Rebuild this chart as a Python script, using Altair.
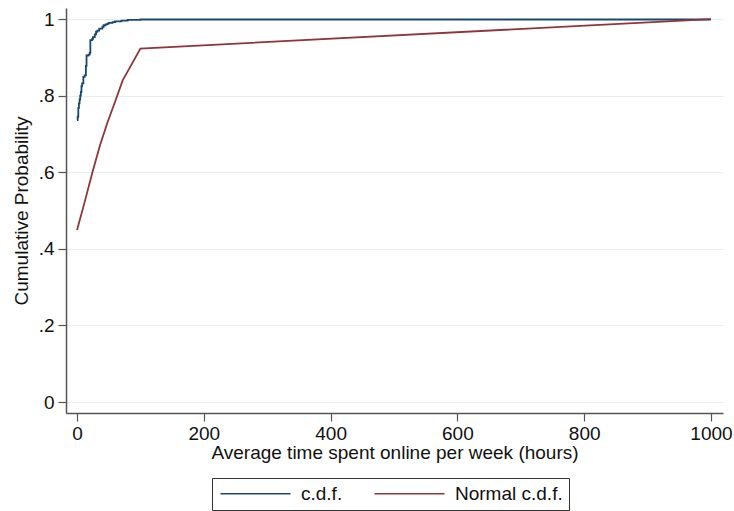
import altair as alt
import pandas as pd

cdf_hours = [0, 1, 2, 3, 4, 5, 6, 7, 8, 10, 12, 14, 15, 18, 20, 21, 24, 25, 28, 30,
             32, 35, 40, 42, 45, 48, 50, 56, 60, 70, 80, 100, 1000]
cdf_prob = [0.736, 0.745, 0.768, 0.780, 0.790, 0.800, 0.810, 0.825, 0.832, 0.849,
            0.853, 0.878, 0.905, 0.907, 0.912, 0.945, 0.948, 0.953, 0.960, 0.967,
            0.970, 0.975, 0.980, 0.984, 0.986, 0.988, 0.990, 0.992, 0.994, 0.996,
            0.998, 0.999, 0.999]

# Normal c.d.f. evaluated at data values
norm_hours = [0, 12, 24, 36, 48, 60, 72, 100, 1000]
norm_prob = [0.449, 0.522, 0.598, 0.669, 0.730, 0.784, 0.840, 0.923, 1.0]

series_names = ["c.d.f.", "Normal c.d.f."]
series_colors = ["#1a476f", "#90353b"]

x_ticks = [0, 200, 400, 600, 800, 1000]
y_ticks = [0, 0.2, 0.4, 0.6, 0.8, 1.0]

df_cdf = pd.DataFrame({"hours": cdf_hours, "prob": cdf_prob, "series": series_names[0]})
df_norm = pd.DataFrame({"hours": norm_hours, "prob": norm_prob, "series": series_names[1]})

FONT = "Liberation Sans"
FS = 19

x_enc = alt.X("hours:Q",
              scale=alt.Scale(domain=[-17.4, 1019], nice=False, zero=False),
              axis=alt.Axis(values=x_ticks, format="d",
                            title="Average time spent online per week (hours)",
                            grid=False, tickSize=8, labelPadding=3, titlePadding=0,
                            labelFontSize=FS, titleFontSize=FS, labelColor="#111",
                            titleColor="#111", domainColor="#555", tickColor="#555",
                            domainWidth=1.5, tickWidth=1.2, labelFont=FONT, titleFont=FONT,
                            titleFontWeight="normal"))
y_enc = alt.Y("prob:Q",
              scale=alt.Scale(domain=[-0.0287, 1.029], nice=False, zero=False),
              axis=alt.Axis(values=y_ticks, title="Cumulative Probability",
                            labelExpr="datum.value == 0 ? '0' : (datum.value == 1 ? '1' : replace(format(datum.value, '.1f'), '0.', '.'))",
                            grid=True, gridColor="#e6eef2", gridWidth=1.2,
                            tickSize=8, labelPadding=4, titlePadding=7,
                            labelFontSize=FS, titleFontSize=FS, labelColor="#111",
                            titleColor="#111", domainColor="#555", tickColor="#555",
                            domainWidth=1.5, tickWidth=1.2, labelFont=FONT, titleFont=FONT,
                            titleFontWeight="normal"))

color_enc = alt.Color("series:N",
                      scale=alt.Scale(domain=series_names, range=series_colors),
                      legend=alt.Legend(title=None, orient="none", legendX=146, legendY=470,
                                        direction="horizontal", symbolType="M-1,0H9",
                                        symbolSize=196, symbolStrokeWidth=1.6,
                                        labelFontSize=FS, labelFont=FONT, labelColor="#111",
                                        strokeColor="#333", padding=6, columnPadding=28,
                                        labelOffset=64, fillColor="white"))

line_cdf = alt.Chart(df_cdf).mark_line(interpolate="step-after", strokeWidth=1.8).encode(
    x=x_enc, y=y_enc, color=color_enc)
line_norm = alt.Chart(df_norm).mark_line(strokeWidth=1.8).encode(
    x=x_enc, y=y_enc, color=color_enc)

chart = alt.layer(line_cdf, line_norm).properties(
    width=657, height=405,
    autosize=alt.AutoSizeParams(type="none"),
    padding={"left": 66, "top": 8, "right": 11, "bottom": 98},
    background="white",
).configure_view(stroke=None)

chart.save("out.html", embed_options={"renderer": "svg", "actions": False})
